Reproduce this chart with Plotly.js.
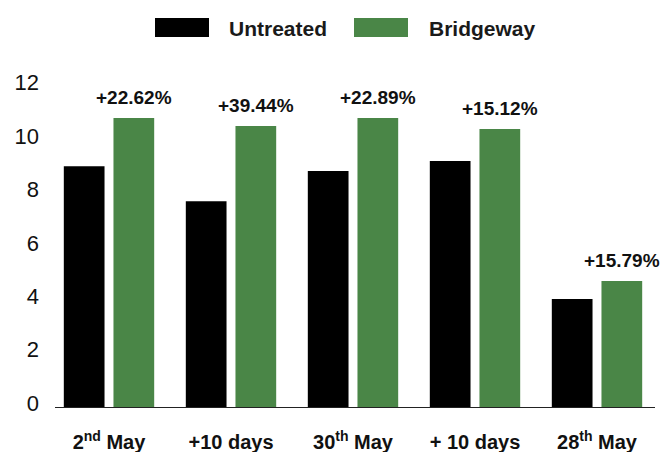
<!DOCTYPE html>
<html>
<head>
<meta charset="utf-8">
<script src="https://cdn.plot.ly/plotly-3.0.1.min.js"></script>
<style>
  html, body { margin: 0; padding: 0; background: #fff; }
  #chart { width: 670px; height: 452px; }
</style>
</head>
<body>
<div id="chart"></div>
<script>
// Sampling dates
const categories = ['2<sup>nd</sup> May', '+10 days', '30<sup>th</sup> May', '+ 10 days', '28<sup>th</sup> May'];

// Series
const seriesNames = ['Untreated', 'Bridgeway'];
const untreated = [9.06, 7.75, 8.88, 9.25, 4.08];
const bridgeway = [10.86, 10.56, 10.86, 10.45, 4.76];

// Improvement shown above each Bridgeway bar
const gainLabels = ['+22.62%', '+39.44%', '+22.89%', '+15.12%', '+15.79%'];

const yTicks = [0, 2, 4, 6, 8, 10, 12];

const colors = ['#000000', '#4a8647'];
const FONT = '"Liberation Sans", Arial, Helvetica, sans-serif';

const W = 670, H = 452;
const margin = { l: 48, r: 8, t: 69, b: 44 };
const plotW = W - margin.l - margin.r;
const plotH = H - margin.t - margin.b;
// pixel -> paper helpers for the hand-built legend and baseline
const px = x => (x - margin.l) / plotW;
const py = y => (H - margin.b - y) / plotH;

const traces = [
  { type: 'bar', name: seriesNames[0], x: categories, y: untreated,
    marker: { color: colors[0], line: { width: 0 } }, hoverinfo: 'skip' },
  { type: 'bar', name: seriesNames[1], x: categories, y: bridgeway,
    marker: { color: colors[1], line: { width: 0 } }, hoverinfo: 'skip' }
];

const annotations = gainLabels.map((t, i) => ({
  x: categories[i], y: bridgeway[i], xref: 'x', yref: 'y',
  text: t, showarrow: false, xanchor: 'center', yanchor: 'bottom',
  xshift: 25, yshift: 8,
  font: { family: FONT, size: 19, color: '#111', weight: 'bold' }
}));

// legend: swatch + label per series
const legendSwatches = [[155, 209], [354, 408]];
const legendTextX = [227, 427];
const shapes = [];
seriesNames.forEach((name, i) => {
  shapes.push({
    type: 'rect', xref: 'paper', yref: 'paper',
    x0: px(legendSwatches[i][0]), x1: px(legendSwatches[i][1]),
    y0: py(37), y1: py(18),
    fillcolor: colors[i], line: { width: 0 }
  });
  annotations.push({
    xref: 'paper', yref: 'paper', x: px(legendTextX[i]), y: py(29),
    xanchor: 'left', yanchor: 'middle', showarrow: false, text: name,
    font: { family: FONT, size: 21, color: '#1a1a1a', weight: 'bold' }
  });
});

// baseline along zero
shapes.push({
  type: 'line', xref: 'paper', yref: 'y',
  x0: px(55), x1: px(655), y0: 0, y1: 0,
  line: { color: '#222', width: 2 }, layer: 'above'
});

const layout = {
  width: W, height: H,
  margin: margin,
  paper_bgcolor: '#fff', plot_bgcolor: '#fff',
  showlegend: false,
  barmode: 'group',
  bargap: 0.186,
  bargroupgap: 0.18,
  font: { family: FONT, color: '#111' },
  xaxis: {
    type: 'category',
    showgrid: false, zeroline: false, showline: false, ticks: '',
    tickfont: { family: FONT, size: 20, color: '#111', weight: 'bold' },
    ticklabelstandoff: 20,
    fixedrange: true
  },
  yaxis: {
    range: [0, 12.7],
    tickvals: yTicks,
    showgrid: false, zeroline: false, showline: false, ticks: '',
    tickfont: { family: FONT, size: 22, color: '#111' },
    ticklabelstandoff: 8,
    ticklabelshift: -5,
    fixedrange: true
  },
  shapes: shapes,
  annotations: annotations
};

Plotly.newPlot('chart', traces, layout, { staticPlot: true, displayModeBar: false });
</script>
</body>
</html>
